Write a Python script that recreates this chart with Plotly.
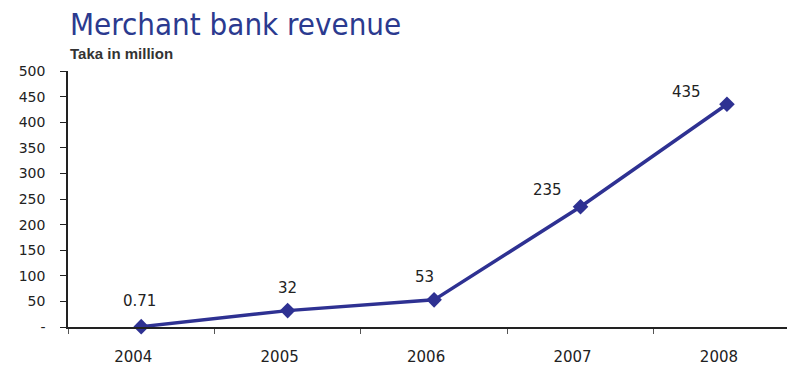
import plotly.graph_objects as go

years = ["2004", "2005", "2006", "2007", "2008"]
revenue = [0.71, 32, 53, 235, 435]
value_labels = ["0.71", "32", "53", "235", "435"]
y_tick_values = [0, 50, 100, 150, 200, 250, 300, 350, 400, 450, 500]
y_tick_text = ["-", "50", "100", "150", "200", "250", "300", "350", "400", "450", "500"]

W, H = 787, 368
LINE_BLUE = "#2E3192"
TITLE_BLUE = "#2B3A8F"
TEXT = "#222222"
BODY_FONT = "DejaVu Sans, Liberation Sans, Arial"

fig = go.Figure()
fig.add_trace(go.Scatter(
    x=years, y=revenue, mode="lines+markers",
    line=dict(color=LINE_BLUE, width=3.5),
    marker=dict(symbol="diamond", size=12, color=LINE_BLUE),
    hoverinfo="skip", cliponaxis=False,
))

# value labels, nudged up and to the left of each point (x given as category index)
label_offsets = [(-2, 26), (0, 23), (-10, 23), (-33, 17), (-40, 12)]
for i, (v, txt, (dx, dy)) in enumerate(zip(revenue, value_labels, label_offsets)):
    fig.add_annotation(x=i, y=v, xref="x", yref="y", text=txt, showarrow=False,
                       xshift=dx, yshift=dy,
                       font=dict(family=BODY_FONT, size=15, color=TEXT))

# chart heading and unit line above the plot area
fig.add_annotation(xref="paper", yref="paper", x=0, y=1, xanchor="left", yanchor="bottom",
                   yshift=27, text="Merchant bank revenue", showarrow=False,
                   font=dict(family="DejaVu Sans Condensed, Liberation Sans Narrow, Arial Narrow",
                             size=31, color=TITLE_BLUE))
fig.add_annotation(xref="paper", yref="paper", x=0, y=1, xanchor="left", yanchor="bottom",
                   yshift=7, text="<b>Taka in million</b>", showarrow=False,
                   font=dict(family="Liberation Sans, Arial", size=15, color="#333333"))

fig.update_layout(
    width=W, height=H,
    margin=dict(l=68, r=0, t=71, b=41),
    paper_bgcolor="white", plot_bgcolor="white",
    showlegend=False,
)
fig.update_xaxes(
    type="category", range=[-0.5, 4.41],
    showline=True, linecolor=TEXT, linewidth=1.5,
    showgrid=False, zeroline=False,
    ticks="outside", tickson="boundaries", ticklen=5, tickcolor="#555555",
    ticklabelstandoff=15, ticklabelshift=-8,
    tickfont=dict(family=BODY_FONT, size=15, color=TEXT),
)
fig.update_yaxes(
    range=[0, 500], tickvals=y_tick_values, ticktext=y_tick_text,
    showline=True, linecolor=TEXT, linewidth=1.5,
    showgrid=False, zeroline=False,
    ticks="outside", ticklen=6, tickcolor=TEXT,
    ticklabelstandoff=12,
    tickfont=dict(family=BODY_FONT, size=14, color=TEXT),
)

fig.write_html("out.html")
